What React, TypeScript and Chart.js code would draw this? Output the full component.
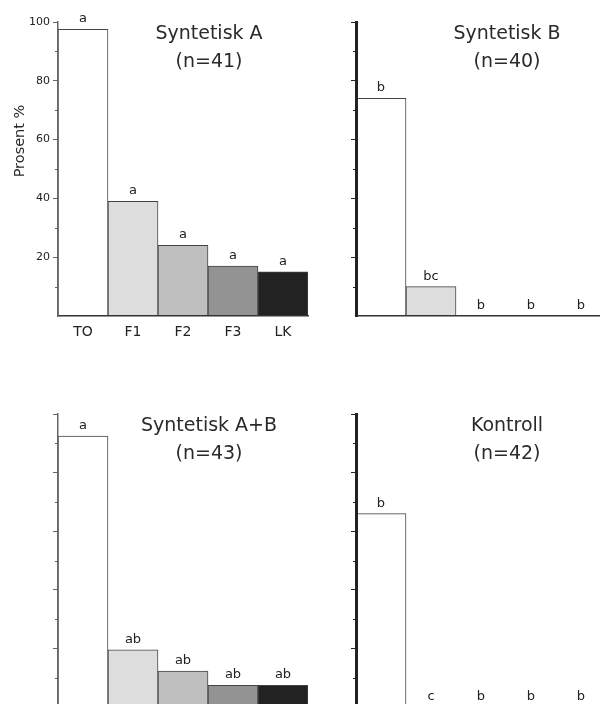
import React, { useEffect, useRef } from "react";
import { Chart, registerables } from "chart.js";

Chart.register(...registerables);

const categories = ["TO", "F1", "F2", "F3", "LK"];
const barColors = ["#ffffff", "#dddddd", "#bfbfbf", "#939393", "#222222"];

const synA = [97.5, 39, 24, 17, 15];
const synB = [74, 10, 0, 0, 0];
const synAB = [92.5, 19.5, 12.3, 7.4, 7.4];
const kontroll = [66, 0, 0, 0, 0];

const lettersA = ["a", "a", "a", "a", "a"];
const lettersB = ["b", "bc", "b", "b", "b"];
const lettersAB = ["a", "ab", "ab", "ab", "ab"];
const lettersK = ["b", "c", "b", "b", "b"];

const yTicks = [20, 40, 60, 80, 100];
const minorTicks = [10, 30, 50, 70, 90];

const FONT = "'DejaVu Sans', Verdana, sans-serif";

type PanelProps = {
  values: number[];
  letters: string[];
  title: string;
  sub: string;
  left: number;
  top: number;
  width: number;
  height: number;
  yWidth: number;
  xHeight: number;
  padTop: number;
  padRight: number;
  showYLabels: boolean;
  showXLabels: boolean;
  thickAxis: boolean;
  yTitle?: string;
};

function Panel(p: PanelProps) {
  const ref = useRef<HTMLCanvasElement | null>(null);
  useEffect(() => {
    if (!ref.current) return;
    const axisColor = p.thickAxis ? "#222222" : "#666666";
    const axisWidth = p.thickAxis ? 3 : 1.5;
    const annot = {
      id: "annot",
      afterDraw(chart: any) {
        const ctx = chart.ctx;
        const area = chart.chartArea;
        const ys = chart.scales.y;
        const meta = chart.getDatasetMeta(0);
        ctx.save();
        // minor ticks
        ctx.strokeStyle = axisColor;
        ctx.lineWidth = 1;
        minorTicks.forEach((v) => {
          const y = Math.round(ys.getPixelForValue(v)) + 0.5;
          ctx.beginPath();
          ctx.moveTo(area.left - 3, y);
          ctx.lineTo(area.left, y);
          ctx.stroke();
        });
        // letters above bars
        ctx.fillStyle = "#222";
        ctx.font = `13px ${FONT}`;
        ctx.textAlign = "center";
        ctx.textBaseline = "alphabetic";
        meta.data.forEach((bar: any, i: number) => {
          ctx.fillText(p.letters[i], bar.x, bar.y - 7);
        });
        // panel title
        ctx.fillStyle = "#2a2a2a";
        ctx.font = `19px ${FONT}`;
        ctx.textBaseline = "middle";
        ctx.fillText(p.title, area.left + 151, area.top + 12.5);
        ctx.fillText(p.sub, area.left + 151, area.top + 40.5);
        // y title
        if (p.yTitle) {
          ctx.translate(20, area.top + 119);
          ctx.rotate(-Math.PI / 2);
          ctx.font = `14.5px ${FONT}`;
          ctx.fillText(p.yTitle, 0, 0);
        }
        ctx.restore();
      },
    };
    const chart = new Chart(ref.current, {
      type: "bar",
      data: {
        labels: categories,
        datasets: [
          {
            data: p.values,
            backgroundColor: barColors,
            borderColor: "#444444",
            borderWidth: 1,
            categoryPercentage: 1,
            barPercentage: 1,
          },
        ],
      },
      options: {
        responsive: false,
        animation: false,
        events: [],
        layout: { padding: { top: p.padTop, right: p.padRight, left: 0, bottom: 0 } },
        plugins: { legend: { display: false }, tooltip: { enabled: false }, title: { display: false } },
        scales: {
          x: {
            grid: { display: false, drawTicks: false },
            border: { display: true, color: "#333333", width: 1.5, z: 1 },
            ticks: {
              display: p.showXLabels,
              padding: 8,
              color: "#222",
              font: { family: FONT, size: 14 },
              maxRotation: 0,
            },
            afterFit: (s: any) => {
              s.height = p.xHeight;
            },
          },
          y: {
            min: 0,
            max: 100,
            afterBuildTicks: (s: any) => {
              s.ticks = [0, ...yTicks].map((v) => ({ value: v }));
            },
            grid: {
              drawOnChartArea: false,
              drawTicks: true,
              tickLength: 5,
              tickColor: (c: any) => (c.tick && c.tick.value === 0 ? "rgba(0,0,0,0)" : axisColor),
              tickWidth: 1,
            },
            border: { display: true, color: axisColor, width: axisWidth, z: 2 },
            ticks: {
              display: p.showYLabels,
              padding: 3,
              color: "#222",
              font: { family: FONT, size: 11 },
              callback: (v: any) => (v === 0 ? "" : String(v)),
            },
            afterFit: (s: any) => {
              s.width = p.yWidth;
            },
          },
        },
      },
      plugins: [annot],
    });
    return () => chart.destroy();
  }, []);
  return (
    <canvas
      ref={ref}
      width={p.width}
      height={p.height}
      style={{ position: "absolute", left: p.left, top: p.top, width: p.width, height: p.height }}
    />
  );
}

export default function App() {
  return (
    <div
      style={{
        position: "fixed",
        left: 0,
        top: 0,
        width: 600,
        height: 704,
        overflow: "hidden",
        background: "#ffffff",
      }}
    >
      <Panel
        values={synA}
        letters={lettersA}
        title="Syntetisk A"
        sub="(n=41)"
        left={0}
        top={0}
        width={330}
        height={350}
        yWidth={58}
        xHeight={34}
        padTop={22}
        padRight={22}
        showYLabels={true}
        showXLabels={true}
        thickAxis={false}
        yTitle="Prosent %"
      />
      <Panel
        values={synB}
        letters={lettersB}
        title="Syntetisk B"
        sub="(n=40)"
        left={300}
        top={0}
        width={310}
        height={350}
        yWidth={56}
        xHeight={34}
        padTop={22}
        padRight={4}
        showYLabels={false}
        showXLabels={false}
        thickAxis={true}
      />
      <Panel
        values={synAB}
        letters={lettersAB}
        title="Syntetisk A+B"
        sub="(n=43)"
        left={0}
        top={380}
        width={330}
        height={340}
        yWidth={58}
        xHeight={13}
        padTop={34}
        padRight={22}
        showYLabels={false}
        showXLabels={false}
        thickAxis={false}
      />
      <Panel
        values={kontroll}
        letters={lettersK}
        title="Kontroll"
        sub="(n=42)"
        left={300}
        top={380}
        width={310}
        height={340}
        yWidth={56}
        xHeight={13}
        padTop={34}
        padRight={4}
        showYLabels={false}
        showXLabels={false}
        thickAxis={true}
      />
    </div>
  );
}
